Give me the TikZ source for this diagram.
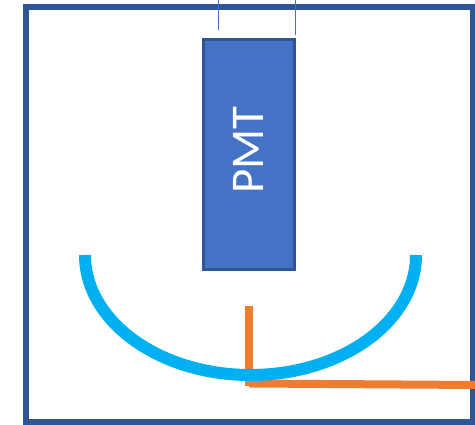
\documentclass[tikz,border=0pt]{standalone}
\usepackage{xcolor}
\usepackage{fontspec}
\setmainfont{Carlito}
\definecolor{framedarkblue}{RGB}{47, 85, 151}
\definecolor{tubeblue}{RGB}{68, 114, 196}
\definecolor{mirrorcyan}{RGB}{0, 176, 240}
\definecolor{fiberorange}{RGB}{237, 125, 49}

\begin{document}
\begin{tikzpicture}[
    tube/.style={draw=framedarkblue, line width=0.06cm, fill=tubeblue, rotate=90,
                 minimum width=4.60cm, minimum height=1.82cm, align=center, text=white},
    pin/.style={draw=tubeblue, line width=0.02cm},
    fiber/.style={draw=fiberorange, line width=0.16cm}
]
    \useasboundingbox (0,0) rectangle (9.5,8.5);

    % Outer box
    \node[draw=framedarkblue, line width=0.13cm, minimum width=8.94cm, minimum height=8.30cm,
          inner sep=0pt] (housing) at (4.99,4.21) {};

    % PMT and its leads
    \node[tube] (pmt) at (4.97,5.40) {\hspace*{0.2cm}\fontsize{26.7}{32}\selectfont PMT};
    \coordinate (leadAtop) at (4.36,8.5);
    \coordinate (leadAend) at (4.36,7.90);
    \coordinate (leadBtop) at (5.91,8.5);
    \coordinate (leadBend) at (5.91,7.80);
    \draw[pin] (leadAtop) -- (leadAend);
    \draw[pin] (leadBtop) -- (leadBend);

    % Orange fibre
    \coordinate (fiberTop) at (4.98,2.38);
    \coordinate (fiberLow) at (4.98,0.78);
    \coordinate (fiberCorner) at (4.98,0.83);
    \coordinate (fiberEnd) at (9.5,0.80);
    \draw[fiber] (fiberTop) -- (fiberLow);
    \draw[fiber] (fiberCorner) -- (fiberEnd);

    % Mirror
    \draw[mirrorcyan, line width=0.24cm] (1.70,3.40)
        arc[start angle=180, end angle=360, x radius=3.31, y radius=2.40];
\end{tikzpicture}
\end{document}
